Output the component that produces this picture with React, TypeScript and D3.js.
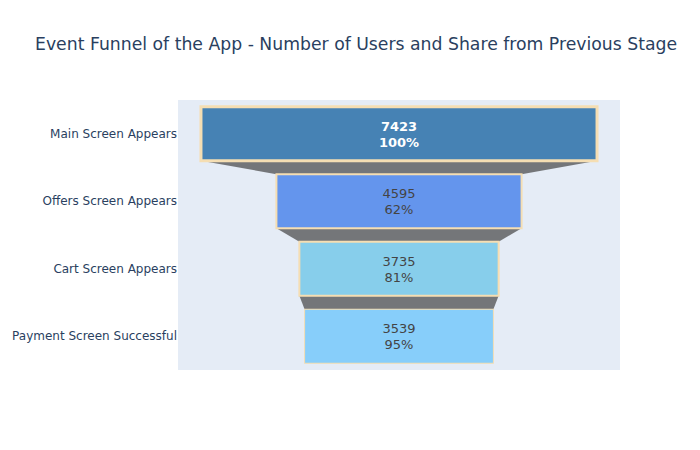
import React from 'react'
import * as d3 from 'd3'

const stages = ['Main Screen Appears', 'Offers Screen Appears', 'Cart Screen Appears', 'Payment Screen Successful']
const users = [7423, 4595, 3735, 3539]
const colors = ['#4682b4', '#6495ed', '#87ceeb', '#87cefa']
const textColors = ['#ffffff', '#444444', '#444444', '#444444']
const borderWidths = [3, 2, 2, 1]

const width = 700
const height = 450
const margin = {top: 100, right: 80, bottom: 80, left: 178}
const plotW = width - margin.left - margin.right
const plotH = height - margin.top - margin.bottom
const font = '"DejaVu Sans", Verdana, sans-serif'

export default function App() {
    const maxV = d3.max(users) as number
    const half = maxV / 2 * 1.116
    const x = d3.scaleLinear().domain([-half, half]).range([0, plotW])
    const y = d3.scaleBand<string>().domain(stages).range([0, plotH])
                .paddingInner(0.2).paddingOuter(0.1)

    const shares = users.map((v, i) => i === 0 ? 100 : Math.round(v / users[i - 1] * 100))

    const connectors = users.slice(1).map((v, i) => {
        const prev = users[i]
        const y0 = (y(stages[i]) as number) + y.bandwidth()
        const y1 = y(stages[i + 1]) as number
        const pts: [number, number][] = [
            [x(-prev / 2), y0], [x(prev / 2), y0], [x(v / 2), y1], [x(-v / 2), y1]
        ]
        return d3.line()(pts) + 'Z'
    })

    return (
        <div style={{position: 'absolute', left: 0, top: 0}}>
            <svg width={width} height={height} style={{fontFamily: font, display: 'block'}}>
                <rect width={width} height={height} fill="#fff" />
                <text x={35} y={50} fontSize={17.25} fill="#2a3f5f">
                    Event Funnel of the App - Number of Users and Share from Previous Stage
                </text>
                <g transform={`translate(${margin.left}, ${margin.top})`}>
                    <rect width={plotW} height={plotH} fill="#e5ecf6" />
                    {connectors.map((d, i) => (
                        <path key={'c' + i} d={d} fill="#444" fillOpacity={0.7} />
                    ))}
                    {users.map((v, i) => {
                        const by = y(stages[i]) as number
                        const cy = by + y.bandwidth() / 2
                        return (
                            <g key={stages[i]}>
                                <rect x={x(-v / 2)} y={by} width={x(v / 2) - x(-v / 2)} height={y.bandwidth()}
                                      fill={colors[i]} stroke="#f5deb3" strokeWidth={borderWidths[i]} />
                                <text x={x(0)} y={cy - 3} textAnchor="middle" fontSize={13}
                                      fill={textColors[i]} fontWeight={i === 0 ? 'bold' : 'normal'}>{v}</text>
                                <text x={x(0)} y={cy + 13} textAnchor="middle" fontSize={13}
                                      fill={textColors[i]} fontWeight={i === 0 ? 'bold' : 'normal'}>{shares[i]}%</text>
                                <text x={-1} y={cy} dy="0.35em" textAnchor="end" fontSize={12}
                                      fill="#2a3f5f">{stages[i]}</text>
                            </g>
                        )
                    })}
                </g>
            </svg>
        </div>
    )
}
